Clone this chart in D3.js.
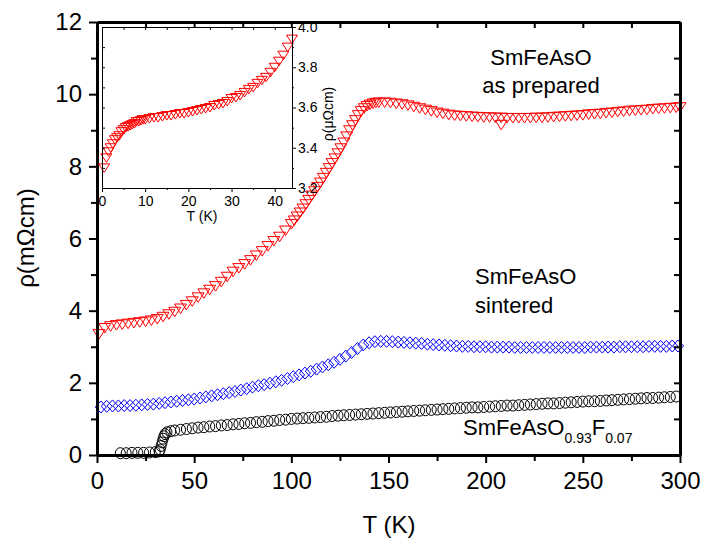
<!DOCTYPE html>
<html>
<head>
<meta charset="utf-8">
<script src="https://cdn.jsdelivr.net/npm/d3@7"></script>
<style>
body{margin:0;background:#fff}
text{font-family:"Liberation Sans",Arial,sans-serif}
</style>
</head>
<body>
<script>
// SmFeAsO as prepared (red triangles)
var tRed = [1,4,7,10,13,16,19,22,25,28,31,34,37,40,43,46,49,52,55,58,61,64,67,70,73,76,79,82,85,88,91,94,97,100,
  101.5,103,104.5,106,107.5,109,110.5,112,113.5,115,116.5,118,119.5,121,122.5,124,125.5,127,128.5,130,131.5,133,134.5,136,137.5,139,140.5,142,143.5,145,
  148,151,154,157,160,163,166,169,172,175,178,181,184,187,190,193,196,199,202,205,208,211,214,217,220,223,226,229,232,235,238,241,244,247,250,253,256,259,262,265,268,271,274,277,280,283,286,289,292,295,298,300,208];
var rhoRed = [3.35,3.52,3.57,3.60,3.62,3.64,3.66,3.68,3.70,3.73,3.77,3.83,3.90,3.97,4.06,4.16,4.26,4.37,4.48,4.58,4.68,4.80,4.94,5.08,5.18,5.29,5.40,5.53,5.65,5.79,5.93,6.05,6.22,6.40,
  6.50,6.61,6.72,6.83,6.95,7.07,7.19,7.31,7.43,7.55,7.68,7.82,7.95,8.09,8.22,8.36,8.50,8.66,8.83,9.00,9.14,9.28,9.42,9.53,9.61,9.67,9.71,9.74,9.76,9.77,
  9.77,9.76,9.74,9.72,9.69,9.65,9.61,9.57,9.53,9.49,9.46,9.43,9.41,9.40,9.39,9.38,9.37,9.36,9.36,9.35,9.35,9.34,9.34,9.34,9.34,9.34,9.35,9.35,9.36,9.37,9.38,9.39,9.40,9.41,9.42,9.44,9.45,9.46,9.48,9.49,9.51,9.52,9.54,9.55,9.56,9.57,9.59,9.60,9.61,9.62,9.63,9.64,9.15];

// SmFeAsO sintered (blue diamonds)
var tBlue = [2,5,8,11,14,17,20,23,26,29,32,35,38,41,44,47,50,53,56,59,62,65,68,71,74,77,80,83,86,89,92,95,98,101,104,107,110,113,116,119,122,125,128,131,134,137,140,143,146,149,
  152,155,158,161,164,167,170,173,176,179,182,185,188,191,194,197,200,203,206,209,212,215,218,221,224,227,230,233,236,239,242,245,248,251,254,257,260,263,266,269,272,275,278,281,284,287,290,293,296,299];
var rhoBlue = [1.33,1.35,1.36,1.36,1.37,1.37,1.38,1.39,1.40,1.41,1.43,1.45,1.47,1.49,1.51,1.53,1.55,1.58,1.61,1.64,1.67,1.70,1.73,1.76,1.80,1.84,1.88,1.92,1.95,1.99,2.03,2.07,2.12,2.17,2.22,2.27,2.32,2.38,2.44,2.50,2.57,2.65,2.74,2.84,2.95,3.05,3.11,3.14,3.15,3.15,
  3.14,3.13,3.12,3.11,3.10,3.09,3.07,3.06,3.05,3.04,3.03,3.02,3.01,3.01,3.00,3.00,3.00,2.99,2.99,2.99,2.99,2.98,2.98,2.98,2.98,2.98,2.98,2.98,2.98,2.98,2.98,2.98,2.98,2.98,2.99,2.99,2.99,2.99,2.99,3.00,3.00,3.00,3.00,3.00,3.01,3.01,3.01,3.01,3.02,3.02];

// SmFeAsO0.93F0.07 (black circles)
var tBlack = [12,15,18,21,24,27,30,32,32.5,33,33.5,34,34.5,35,36,38,40,43,46,49,52,55,58,61,64,67,70,73,76,79,82,85,88,91,94,97,100,103,106,109,112,115,118,121,124,127,130,133,136,139,142,145,148,
  151,154,157,160,163,166,169,172,175,178,181,184,187,190,193,196,199,202,205,208,211,214,217,220,223,226,229,232,235,238,241,244,247,250,253,256,259,262,265,268,271,274,277,280,283,286,289,292,295,298];
var rhoBlack = [0.05,0.05,0.06,0.06,0.06,0.07,0.08,0.10,0.15,0.25,0.35,0.45,0.52,0.58,0.63,0.66,0.68,0.70,0.72,0.74,0.76,0.77,0.79,0.80,0.82,0.83,0.85,0.86,0.88,0.89,0.91,0.92,0.94,0.95,0.97,0.98,1.00,1.01,1.02,1.03,1.04,1.05,1.06,1.08,1.09,1.10,1.11,1.12,1.13,1.14,1.15,1.16,1.17,
  1.18,1.19,1.20,1.21,1.22,1.23,1.24,1.25,1.26,1.27,1.28,1.29,1.30,1.31,1.32,1.32,1.33,1.34,1.35,1.36,1.37,1.37,1.38,1.39,1.40,1.41,1.42,1.43,1.43,1.44,1.45,1.46,1.47,1.48,1.49,1.49,1.50,1.51,1.52,1.53,1.54,1.55,1.56,1.57,1.58,1.58,1.59,1.60,1.61,1.62];

// inset, low temperature part (red triangles)
var tInset = [0.5,1,1.5,2,2.5,3,3.5,4,4.5,5,5.5,6,6.5,7,7.5,8,8.5,9,9.5,10,11,12,13,14,15,16,17,18,19,20,21,22,23,24,25,26,27,28,29,30,31,32,33,34,35,36,37,38,39,40,41,42,43,44];
var rhoInset = [3.30,3.35,3.38,3.40,3.42,3.44,3.45,3.46,3.48,3.49,3.50,3.505,3.51,3.515,3.52,3.53,3.53,3.535,3.54,3.54,3.545,3.55,3.55,3.555,3.56,3.56,3.565,3.57,3.57,3.575,3.58,3.585,3.59,3.595,3.60,3.61,3.615,3.62,3.63,3.645,3.65,3.66,3.675,3.69,3.70,3.72,3.735,3.75,3.775,3.80,3.83,3.86,3.90,3.94];

// ticks
var xTicks = [0,50,100,150,200,250,300], xMinor = [25,75,125,175,225,275];
var yTicks = [0,2,4,6,8,10,12], yMinor = [1,3,5,7,9,11];
var xiTicks = [0,10,20,30,40], xiMinor = [5,15,25,35];
var yiTicks = [3.2,3.4,3.6,3.8,4.0], yiMinor = [3.3,3.5,3.7,3.9];

var width = 706, height = 547;
var svg = d3.select("body").append("svg").attr("width", width).attr("height", height);

var x = d3.scaleLinear().domain([0,300]).range([97,680]);
var y = d3.scaleLinear().domain([0,12]).range([455,22]);

var triDown = "M-6,-4.5L6,-4.5L0,5Z";
var diamond = "M-5.5,0L0,-6L5.5,0L0,6Z";

function zip(a,b){ return a.map(function(d,i){ return [d,b[i]]; }); }

function drawPoints(g, data, sx, sy, shape, color){
  if(shape=="circle"){
    g.selectAll(null).data(data).enter().append("ellipse")
      .attr("cx", function(d){ return sx(d[0]); })
      .attr("cy", function(d){ return sy(d[1]); })
      .attr("rx", 5).attr("ry", 5.5)
      .attr("fill","none").attr("stroke",color).attr("stroke-width",1);
  } else {
    g.selectAll(null).data(data).enter().append("path")
      .attr("d", shape)
      .attr("transform", function(d){ return "translate("+sx(d[0])+","+sy(d[1])+")"; })
      .attr("fill","none").attr("stroke",color).attr("stroke-width",1);
  }
}

var dataG = svg.append("g");
drawPoints(dataG, zip(tRed,rhoRed), x, y, triDown, "#ff0000");
drawPoints(dataG, zip(tBlue,rhoBlue), x, y, diamond, "#0000ff");
drawPoints(dataG, zip(tBlack,rhoBlack), x, y, "circle", "#000");

// axes
function styleAxis(g, lw){
  g.select(".domain").attr("stroke-width", lw);
  g.selectAll(".tick line").attr("stroke-width", 2);
  g.selectAll("text").attr("font-family",'"Liberation Sans",Arial,sans-serif').attr("fill","#000");
}
var fs = 24;
var gx = svg.append("g").attr("transform","translate(0,455)")
  .call(d3.axisBottom(x).tickValues(xTicks).tickSize(8).tickSizeOuter(0).tickPadding(9));
gx.selectAll("text").attr("font-size", fs);
styleAxis(gx,3);
svg.append("g").attr("transform","translate(0,455)")
  .call(d3.axisBottom(x).tickValues(xMinor).tickSize(6).tickSizeOuter(0).tickFormat(""))
  .call(function(g){ g.select(".domain").remove(); g.selectAll("line").attr("stroke-width",2); });

var gy = svg.append("g").attr("transform","translate(97,0)")
  .call(d3.axisLeft(y).tickValues(yTicks).tickSize(8).tickSizeOuter(0).tickPadding(7));
gy.selectAll("text").attr("font-size", fs);
styleAxis(gy,3);
svg.append("g").attr("transform","translate(97,0)")
  .call(d3.axisLeft(y).tickValues(yMinor).tickSize(6).tickSizeOuter(0).tickFormat(""))
  .call(function(g){ g.select(".domain").remove(); g.selectAll("line").attr("stroke-width",2); });

// top and right: mirrored inward ticks
var gt = svg.append("g").attr("transform","translate(0,22)")
  .call(d3.axisTop(x).tickValues(xTicks.concat(xMinor)).tickSize(-6).tickSizeOuter(0).tickFormat(""));
styleAxis(gt,3);
var gr = svg.append("g").attr("transform","translate(680,0)")
  .call(d3.axisRight(y).tickValues(yTicks.concat(yMinor)).tickSize(-6).tickSizeOuter(0).tickFormat(""));
styleAxis(gr,3);

// axis titles
svg.append("text").attr("x",389).attr("y",533).attr("text-anchor","middle")
  .attr("font-size",24).text("T (K)");
svg.append("text").attr("transform","translate(34,238) rotate(-90)").attr("text-anchor","middle")
  .attr("font-size",24).text("ρ(mΩcm)");

// sample labels
svg.append("text").attr("x",541).attr("y",65).attr("text-anchor","middle").attr("font-size",22).text("SmFeAsO");
svg.append("text").attr("x",541).attr("y",93).attr("text-anchor","middle").attr("font-size",22).text("as prepared");
svg.append("text").attr("x",475).attr("y",284).attr("font-size",22).text("SmFeAsO");
svg.append("text").attr("x",475).attr("y",313).attr("font-size",22).text("sintered");
var lab = svg.append("text").attr("x",463).attr("y",435).attr("font-size",22);
lab.append("tspan").text("SmFeAsO");
lab.append("tspan").attr("font-size",14).attr("dy",8).text("0.93");
lab.append("tspan").attr("dy",-8).text("F");
lab.append("tspan").attr("font-size",14).attr("dy",8).text("0.07");

// inset
var xi = d3.scaleLinear().domain([0,44]).range([102,292]);
var yi = d3.scaleLinear().domain([3.2,4.0]).range([188,27]);
var inset = svg.append("g");
inset.append("rect").attr("x",102).attr("y",27).attr("width",190).attr("height",161).attr("fill","#fff");
drawPoints(inset, zip(tInset,rhoInset), xi, yi, "M-5.5,-4L5.5,-4L0,4.5Z", "#ff0000");

var gxi = inset.append("g").attr("transform","translate(0,188)")
  .call(d3.axisBottom(xi).tickValues(xiTicks).tickSize(4).tickSizeOuter(0).tickPadding(4));
inset.append("g").attr("transform","translate(0,188)")
  .call(d3.axisBottom(xi).tickValues(xiMinor).tickSize(2).tickSizeOuter(0).tickFormat(""))
  .call(function(g){ g.select(".domain").remove(); });
var gyi = inset.append("g").attr("transform","translate(292,0)")
  .call(d3.axisRight(yi).tickValues(yiTicks).tickSize(4).tickSizeOuter(0).tickPadding(2).tickFormat(d3.format(".1f")));
inset.append("g").attr("transform","translate(292,0)")
  .call(d3.axisRight(yi).tickValues(yiMinor).tickSize(2).tickSizeOuter(0).tickFormat(""))
  .call(function(g){ g.select(".domain").remove(); });
inset.append("g").attr("transform","translate(102,0)")
  .call(d3.axisRight(yi).tickValues(yiTicks.concat(yiMinor)).tickSize(3).tickSizeOuter(0).tickFormat(""));
inset.append("g").attr("transform","translate(0,27)")
  .call(d3.axisBottom(xi).tickValues(xiTicks.concat(xiMinor)).tickSize(3).tickSizeOuter(0).tickFormat(""));
inset.selectAll("text").attr("font-size",14).attr("font-family",'"Liberation Sans",Arial,sans-serif').attr("fill","#000");

inset.append("text").attr("x",202).attr("y",221).attr("text-anchor","middle").attr("font-size",14).text("T (K)");
inset.append("text").attr("transform","translate(333,114) rotate(-90)").attr("text-anchor","middle")
  .attr("font-size",14).text("ρ(μΩcm)");
</script>
</body>
</html>
